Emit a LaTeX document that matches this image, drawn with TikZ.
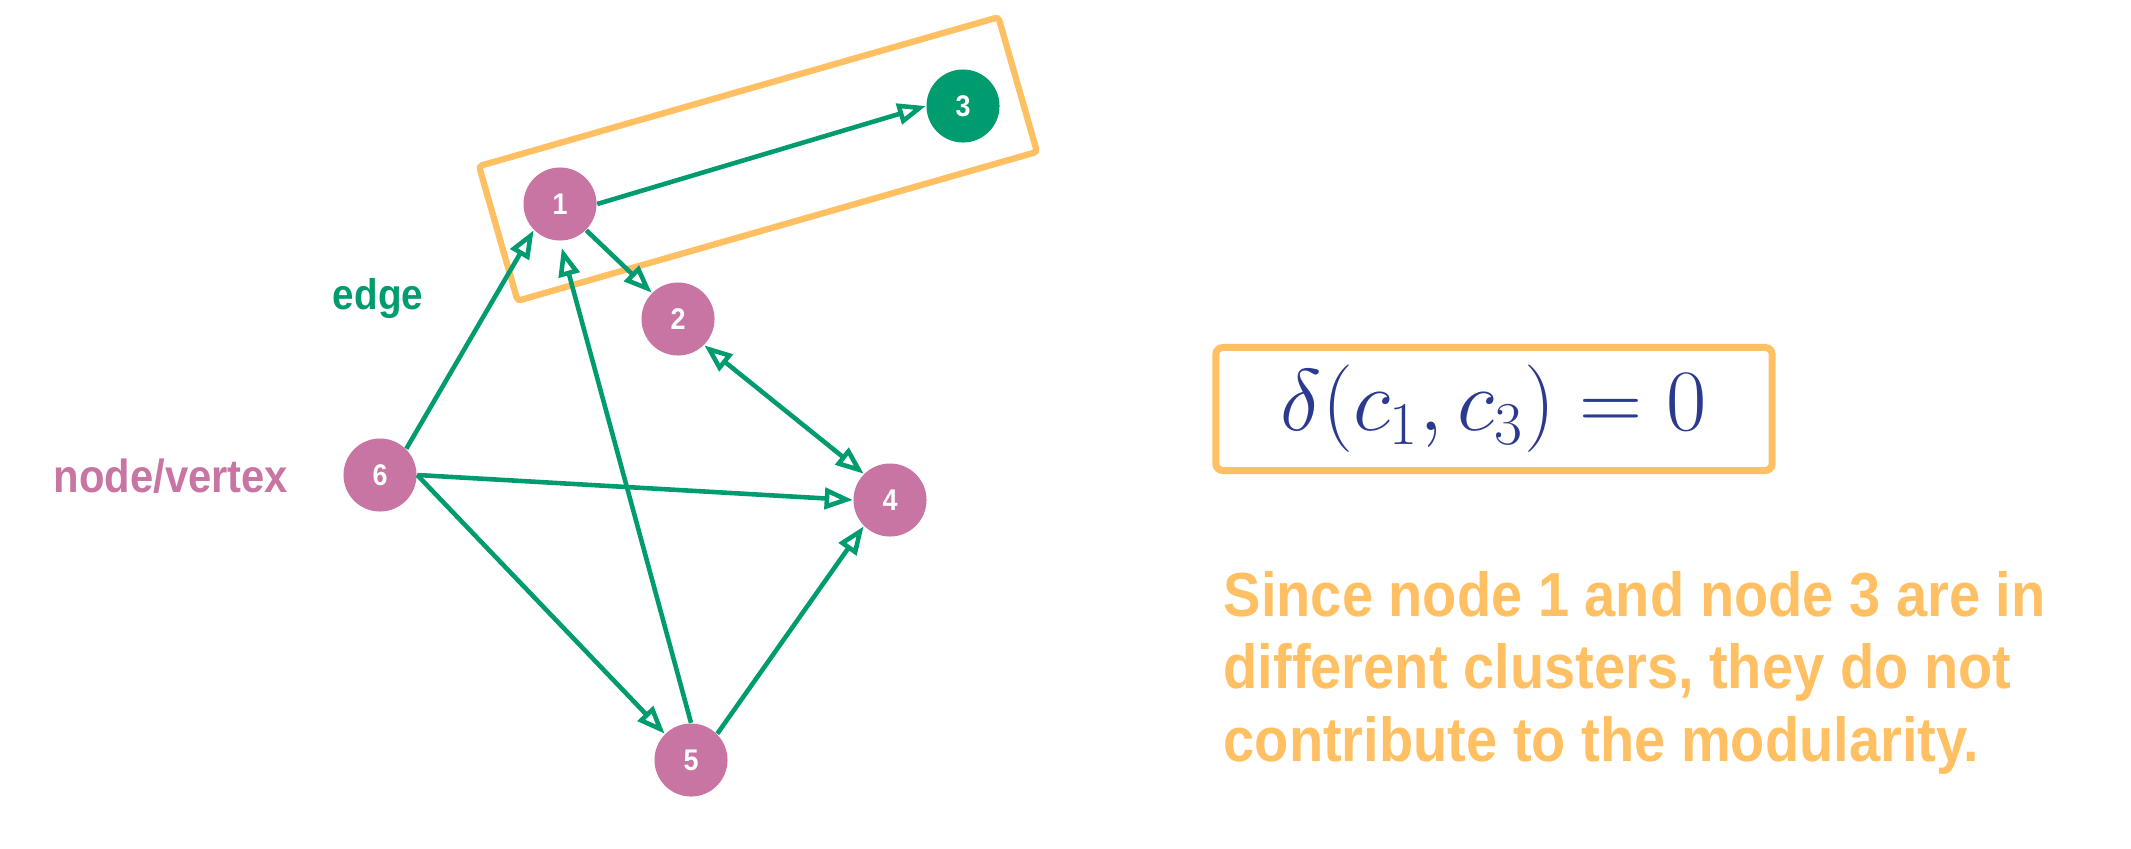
\documentclass[tikz,border=0pt]{standalone}
\usepackage{fontspec}
\usetikzlibrary{arrows.meta}
\newfontfamily\robo{Liberation Sans}[FakeStretch=0.9]
\definecolor{vertexpink}{HTML}{C875A3}
\definecolor{edgegreen}{HTML}{009B6F}
\definecolor{clusterorange}{HTML}{FFC063}
\definecolor{formulablue}{HTML}{2B3A8F}

\begin{document}
\begin{tikzpicture}[x=0.01cm,y=-0.01cm,>={Triangle[open,length=8pt,width=6pt]},
  vertex/.style={circle,fill=vertexpink,minimum size=0.73cm,inner sep=0pt,
    text=white,font=\robo\bfseries\fontsize{8.5}{10}\selectfont},
  link/.style={draw=edgegreen,line width=1.3pt},
  clusterbox/.style={draw=clusterorange,line width=1.8pt,rounded corners=1pt}]
\useasboundingbox (0,0) rectangle (2131,848);
\node [clusterbox,rotate=16,minimum width=5.4cm,minimum height=1.4cm] (c13) at (758,159) {};
\node [vertex] (1) at (560,204) {1};
\node [vertex] (2) at (678,319) {2};
\node [vertex,fill=edgegreen] (3) at (963,106) {3};
\node [vertex] (4) at (890,500) {4};
\node [vertex] (5) at (691,760) {5};
\node [vertex] (6) at (380,475) {6};
\node [anchor=base,text=edgegreen,font=\robo\bfseries\fontsize{12.2}{14}\selectfont] (edgelbl) at (378,309) {edge};
\node [anchor=base west,inner sep=0pt,text=vertexpink,font=\robo\bfseries\fontsize{13.2}{15}\selectfont] (vertexlbl) at (53,492) {node/vertex};
\path[link] (1.east) edge [->] (3.west)
            (1.-45) edge [->] (2.135)
            (2.-45) edge [<->] (4.135)
            (6.45) edge [->] (1.225)
            (5.north) edge [->,shorten >=2pt] (1.south)
            (6.east) edge [->] (4.west)
            (6.east) edge [->] (5.135)
            (5.45) edge [->] (4.225);
\node [clusterbox,rounded corners=2pt,line width=2pt,minimum width=5.56cm,minimum height=1.23cm,
  text=formulablue,font=\fontsize{26.8}{32}\selectfont] (delta) at (1494,409) {$\delta(c_1,c_3)=0$};
\node [anchor=base west,inner sep=0pt,align=left,text=clusterorange,
  font=\robo\bfseries\fontsize{17.7}{20.5}\selectfont] (note) at (1223,761)
  {Since node 1 and node 3 are in\\different clusters, they do not\\contribute to the modularity.};
\end{tikzpicture}
\end{document}
